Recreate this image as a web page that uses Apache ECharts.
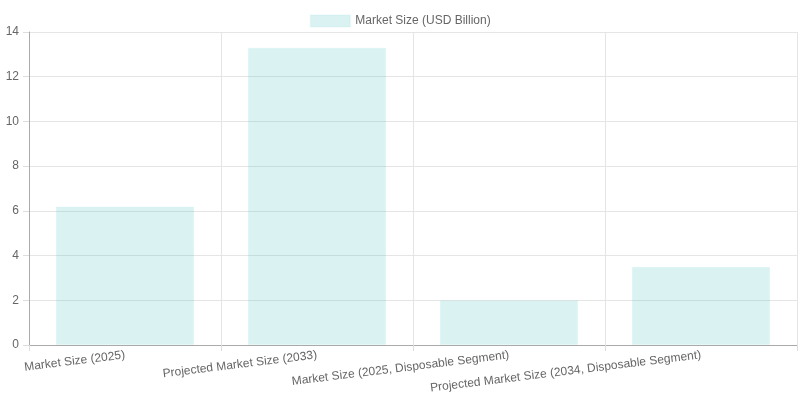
<!DOCTYPE html>
<html>
<head>
<meta charset="utf-8">
<script src="https://cdn.jsdelivr.net/npm/echarts@6/dist/echarts.min.js"></script>
<style>
html, body { margin: 0; padding: 0; background: #fff; overflow: hidden; }
#chart { width: 800px; height: 400px; }
</style>
</head>
<body>
<div id="chart"></div>
<script>
// 数据
var categories = [
	'Market Size (2025)',
	'Projected Market Size (2033)',
	'Market Size (2025, Disposable Segment)',
	'Projected Market Size (2034, Disposable Segment)'
];
var marketSize = [6.2, 13.3, 2.0, 3.5];
var seriesName = 'Market Size (USD Billion)';

var chart = echarts.init(document.getElementById('chart'));
var font = 'Liberation Sans, Arial, Helvetica, sans-serif';

chart.setOption({
	animation: false,
	textStyle: { fontFamily: font },
	legend: {
		top: 9,
		left: 'center',
		icon: 'rect',
		itemWidth: 40,
		itemHeight: 12,
		itemGap: 10,
		textStyle: { color: '#666', fontSize: 12, fontFamily: font },
		data: [seriesName]
	},
	grid: { left: 29, right: 3, top: 32, bottom: 55, containLabel: false, outerBoundsMode: 'none' },
	xAxis: {
		type: 'category',
		data: categories,
		boundaryGap: true,
		axisLine: { show: true, lineStyle: { color: '#aaa' } },
		axisTick: { show: true, length: 6, alignWithLabel: false, lineStyle: { color: '#ddd' } },
		splitLine: { show: true, lineStyle: { color: '#e5e5e5' } },
		axisLabel: {
			interval: 0,
			rotate: 7,
			color: '#666',
			fontSize: 12,
			margin: 10,
			fontFamily: font
		}
	},
	yAxis: {
		type: 'value',
		min: 0,
		max: 14,
		interval: 2,
		axisLine: { show: true, lineStyle: { color: '#aaa' } },
		axisTick: { show: true, length: 6, lineStyle: { color: '#ddd' } },
		splitLine: { show: true, lineStyle: { color: '#e5e5e5' } },
		axisLabel: { color: '#666', fontSize: 12, margin: 10, fontFamily: font }
	},
	series: [{
		name: seriesName,
		type: 'bar',
		data: marketSize,
		barCategoryGap: '28%',
		itemStyle: {
			color: 'rgba(75, 192, 192, 0.2)',
			borderColor: 'rgba(75, 192, 192, 0.05)',
			borderWidth: 1
		}
	}]
});
</script>
</body>
</html>
